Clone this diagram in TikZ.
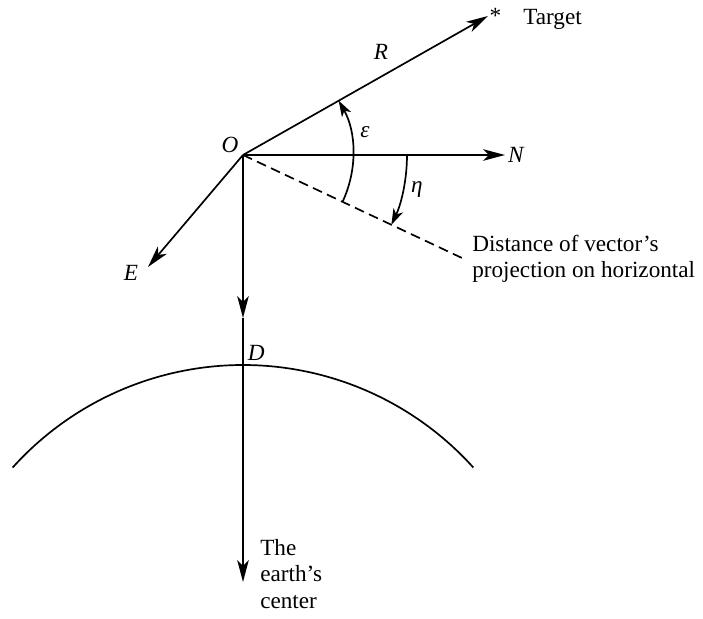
\documentclass[tikz,border=0pt]{standalone}
\usepackage{fontspec}
\setmainfont{Liberation Serif}
\usetikzlibrary{arrows.meta,positioning}

\begin{document}
\begin{tikzpicture}[>={Stealth[length=5.5mm,width=2.9mm,inset=1.5mm]},
    font=\fontsize{16.5}{18.6}\selectfont,
    vec/.style={->,line width=1.2pt},
    arcvec/.style={-{Stealth[length=4mm,width=2.6mm,inset=1.1mm]},line width=1.2pt},
    lbl/.style={font=\fontsize{16.5}{18.6}\selectfont\itshape,inner sep=0pt}]
    \useasboundingbox (-6.075,-11.6) rectangle (11.5,3.875);

    % reference point and directions
    \coordinate (O) at (0,0);
    \coordinate (T) at (6.125,3.475);
    \coordinate (Nend) at (6.55,0);
    \coordinate (Eend) at (-2.375,-2.8);
    \coordinate (P) at (5.475,-2.575);
    \coordinate (Dn) at (0,-4.075);
    \coordinate (ctr) at (0,-10.675);
    \coordinate (earth) at (0,-13);

    \draw[vec] (O)--(T);
    \draw[vec] (O)--(Nend);
    \draw[vec] (O)--(Eend);
    \draw[line width=1.2pt,dash pattern=on 7pt off 4pt] (O)--(P);
    \draw[vec] (O)--(Dn); \draw[vec] (Dn)--(ctr);

    % surface of the earth
    \draw[line width=1.2pt] ([shift={(138:7.75)}]earth) arc[start angle=138,end angle=42,radius=7.75];

    % angles
    \draw[arcvec] (-25.2:2.75) arc[start angle=-25.2,end angle=29.6,radius=2.75];
    \draw[arcvec] (0:4.1) arc[start angle=0,end angle=-25.2,radius=4.1];

    \node[lbl] (olbl) at (-0.325,0.25) {O};
    \node[lbl] (rlbl) at (3.45,2.575) {R};
    \node[right,inner sep=1pt] (star) at (T) {*};
    \node[anchor=base west,inner sep=0pt] (tgt) at (7.0,3.25) {Target};
    \node[lbl] (eps) at (3.05,0.575) {ε};
    \node[lbl] (eta) at (4.35,-0.875) {η};
    \node[lbl,right=2pt of Nend] (nlbl) {N};
    \node[lbl] (elbl) at (-2.8,-2.95) {E};
    \node[lbl] (dlbl) at (0.33,-4.95) {D};
    \node[anchor=base west,inner sep=0pt,align=left] (proj) at (5.725,-3.075) {Distance of vector’s\\projection on horizontal};
    \node[anchor=base west,inner sep=0pt,align=left] (center) at (0.425,-11.325) {The\\earth’s\\center};
\end{tikzpicture}
\end{document}
